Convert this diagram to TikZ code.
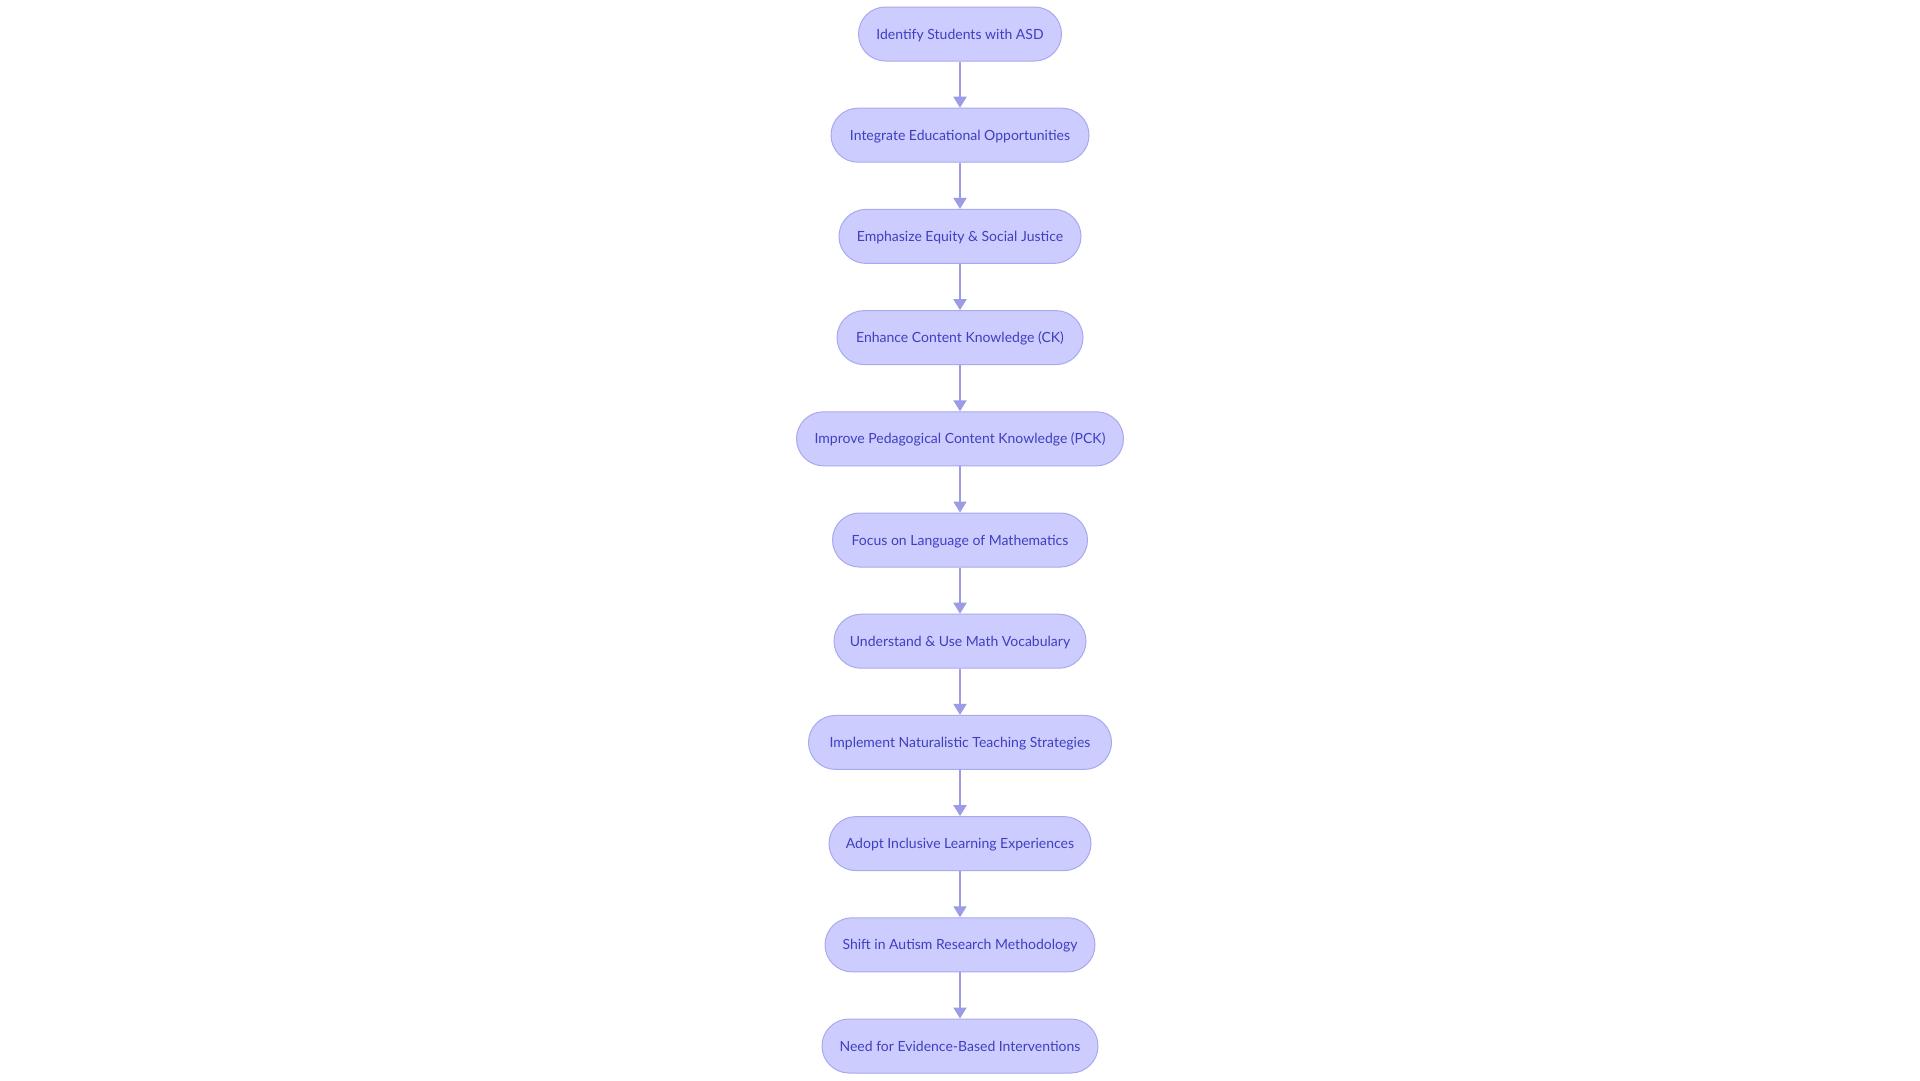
\documentclass[tikz,border=0pt]{standalone}
\usepackage{fontspec}
\setmainfont{Lato}
\usetikzlibrary{arrows.meta}
\definecolor{nfill}{HTML}{CCCCFF}
\definecolor{nborder}{HTML}{A9A9EE}
\definecolor{ntext}{HTML}{3F3FBF}
\definecolor{edgecol}{HTML}{9C9CE6}
\tikzset{
  flowbox/.style={draw=nborder, line width=1pt, fill=nfill, rounded corners=27pt,
    minimum height=54pt, inner sep=0pt, text=ntext, text height=13pt, text depth=3pt,
    font=\fontsize{14pt}{16pt}\selectfont},
  flowedge/.style={draw=edgecol, line width=2pt, -{Triangle[length=11pt,width=13pt]}}
}
\begin{document}
\begin{tikzpicture}[x=1pt,y=1pt]
\useasboundingbox[fill=white] (0,0) rectangle (1920,-1080);
\node[flowbox, minimum width=203pt] (n1) at (960,-34) {Identify Students with ASD};
\node[flowbox, minimum width=258pt] (n2) at (960,-135.2) {Integrate Educational Opportunities};
\node[flowbox, minimum width=242pt] (n3) at (960,-236.4) {Emphasize Equity \& Social Justice};
\node[flowbox, minimum width=246pt] (n4) at (960,-337.6) {Enhance Content Knowledge (CK)};
\node[flowbox, minimum width=327pt] (n5) at (960,-438.8) {Improve Pedagogical Content Knowledge (PCK)};
\node[flowbox, minimum width=255pt] (n6) at (960,-540) {Focus on Language of Mathematics};
\node[flowbox, minimum width=252pt] (n7) at (960,-641.2) {Understand \& Use Math Vocabulary};
\node[flowbox, minimum width=303pt] (n8) at (960,-742.4) {Implement Naturalistic Teaching Strategies};
\node[flowbox, minimum width=262pt] (n9) at (960,-843.6) {Adopt Inclusive Learning Experiences};
\node[flowbox, minimum width=270pt] (n10) at (960,-944.8) {Shift in Autism Research Methodology};
\node[flowbox, minimum width=276pt] (n11) at (960,-1046) {Need for Evidence-Based Interventions};
\foreach \a/\b in {n1/n2,n2/n3,n3/n4,n4/n5,n5/n6,n6/n7,n7/n8,n8/n9,n9/n10,n10/n11}
  \draw[flowedge] (\a) -- (\b);
\end{tikzpicture}
\end{document}
